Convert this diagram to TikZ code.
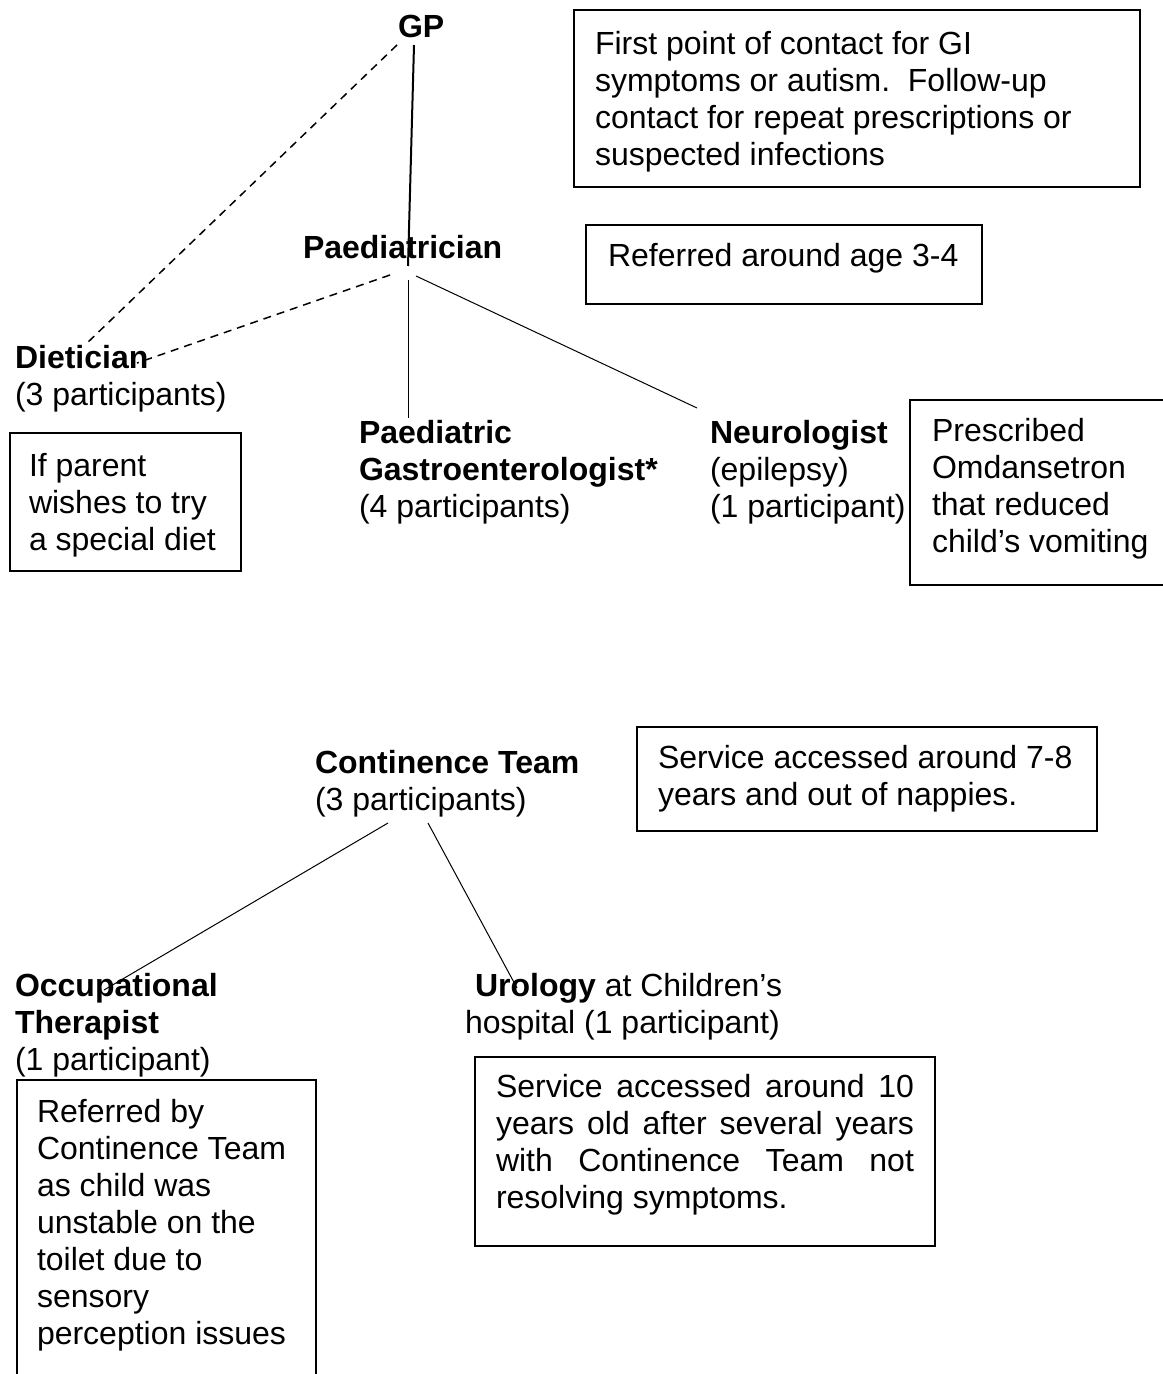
\documentclass[tikz,border=0pt]{standalone}
\usepackage{fontspec}
\setmainfont{Liberation Sans}
\usetikzlibrary{calc}
\newcommand\mylines[1]{\begin{tabular}[t]{@{}l@{}}#1\end{tabular}}
\begin{document}
\begin{tikzpicture}[x=0.5pt,y=-0.5pt,
  every node/.style={inner sep=0pt, outer sep=0pt},
  txt/.style={anchor=base west, font=\fontsize{16pt}{18.5pt}\selectfont},
  btxt/.style={txt, font=\fontsize{16pt}{18.5pt}\selectfont\bfseries},
  box/.style={draw, line width=0.7pt, anchor=north west},
  link/.style={line width=0.5pt},
  strong/.style={line width=1pt},
  dashlink/.style={line width=0.75pt, dash pattern=on 4pt off 3pt}]
\fill[white] (0,0) rectangle (1162,1374);
\useasboundingbox (0,0) rectangle (1162,1374);

% boxes
\node[box, minimum width=283pt, minimum height=88.5pt] (b1) at (574,10) {};
\node[box, minimum width=198pt, minimum height=39.5pt] (b2) at (586,225) {};
\node[box, minimum width=115.5pt, minimum height=69pt] (b3) at (10,433) {};
\node[box, minimum width=150pt, minimum height=92.5pt] (b4) at (910,400) {};
\node[box, minimum width=230pt, minimum height=52pt] (b5) at (637,727) {};
\node[box, minimum width=149.5pt, minimum height=200pt] (b6) at (17,1080) {};
\node[box, minimum width=230pt, minimum height=94.5pt] (b7) at (475,1057) {};

% box texts
\node[txt] (t1) at (595,55) {\mylines{First point of contact for GI\\symptoms or autism.\ \ Follow-up\\contact for repeat prescriptions or\\suspected infections}};
\node[txt] (t2) at (608,267) {Referred around age 3-4};
\node[txt] (t3) at (29,476) {\mylines{If parent\\wishes to try\\a special diet}};
\node[txt] (t4) at (932,441) {\mylines{Prescribed\\Omdansetron\\that reduced\\child’s vomiting}};
\node[txt] (t5) at (658,768) {\mylines{Service accessed around 7-8\\years and out of nappies.}};
\node[txt] (t6) at (37,1122) {\mylines{Referred by\\Continence Team\\as child was\\unstable on the\\toilet due to\\sensory\\perception issues}};
\node[txt, text width=209pt, align=justify] (t7) at (496,1097) {Service accessed around 10\linebreak years old after several years\linebreak with Continence Team not\linebreak resolving symptoms.};

% service nodes
\node[btxt] (gp) at (398,38) {GP};
\node[btxt] (paed) at (303,259) {Paediatrician};
\node[txt] (diet) at (15,368) {\mylines{\textbf{Dietician}\\(3 participants)}};
\node[txt] (gastro) at (359,443) {\mylines{\textbf{Paediatric}\\\textbf{Gastroenterologist*}\\(4 participants)}};
\node[txt] (neuro) at (710,443) {\mylines{\textbf{Neurologist}\\(epilepsy)\\(1 participant)}};
\node[txt] (cont) at (315,773) {\mylines{\textbf{Continence Team}\\(3 participants)}};
\node[txt] (ot) at (15,996) {\mylines{\textbf{Occupational}\\\textbf{Therapist}\\(1 participant)}};
\node[txt] (uro) at (465,996) {\mylines{\hspace*{5pt}\textbf{Urology} at Children’s\\hospital (1 participant)}};

% connectors
\draw[strong] ($(gp.base west)+(16,7)$) -- ($(paed.base west)+(105,7)$);
\draw[dashlink] ($(gp.base west)+(-1,7)$) -- ($(diet.base west)+(70,-23)$);
\draw[dashlink] ($(paed.base west)+(87,16)$) -- ($(diet.base west)+(122,-5)$);
\draw[link] ($(paed.base west)+(105,21)$) -- ($(gastro.base west)+(49,-25)$);
\draw[link] ($(paed.base west)+(113,17)$) -- ($(neuro.base west)+(-13,-35)$);
\draw[link] ($(cont.base west)+(73,50)$) -- ($(ot.base west)+(89,-6)$);
\draw[link] ($(cont.base west)+(113,50)$) -- ($(uro.base west)+(52,-8)$);
\end{tikzpicture}
\end{document}
